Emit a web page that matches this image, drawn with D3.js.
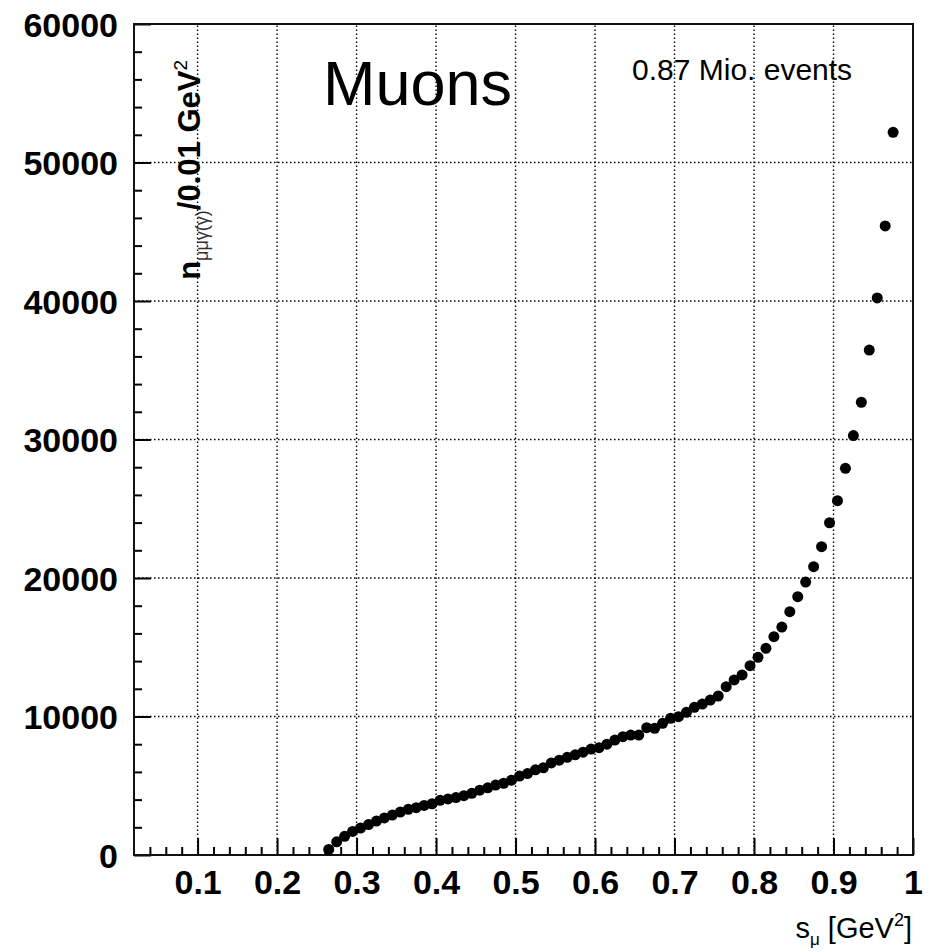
<!DOCTYPE html>
<html>
<head>
<meta charset="utf-8">
<script src="https://cdn.jsdelivr.net/npm/d3@7"></script>
<style>
  body { margin: 0; background: #fff; }
  svg text { font-family: "Liberation Sans", Arial, Helvetica, sans-serif; }
</style>
</head>
<body>
<div id="chart"></div>
<script>
// bin centres, s_mu in GeV^2 (0.01 GeV^2 bins)
const sMu = [
  0.265, 0.275, 0.285, 0.295, 0.305, 0.315, 0.325, 0.335, 0.345, 0.355,
  0.365, 0.375, 0.385, 0.395, 0.405, 0.415, 0.425, 0.435, 0.445, 0.455,
  0.465, 0.475, 0.485, 0.495, 0.505, 0.515, 0.525, 0.535, 0.545, 0.555,
  0.565, 0.575, 0.585, 0.595, 0.605, 0.615, 0.625, 0.635, 0.645, 0.655,
  0.665, 0.675, 0.685, 0.695, 0.705, 0.715, 0.725, 0.735, 0.745, 0.755,
  0.765, 0.775, 0.785, 0.795, 0.805, 0.815, 0.825, 0.835, 0.845, 0.855,
  0.865, 0.875, 0.885, 0.895, 0.905, 0.915, 0.925, 0.935, 0.945, 0.955,
  0.965, 0.975
];

// events per bin
const nEvents = [
  400, 950, 1350, 1700, 1950, 2200, 2450, 2680, 2880, 3100,
  3300, 3420, 3580, 3700, 3950, 4050, 4150, 4280, 4450, 4680,
  4850, 5050, 5180, 5400, 5700, 5880, 6150, 6300, 6650, 6850,
  7050, 7230, 7420, 7650, 7750, 8000, 8300, 8540, 8660, 8660,
  9190, 9150, 9510, 9870, 9990, 10300, 10660, 10900, 11190, 11480,
  12150, 12640, 13000, 13670, 14270, 14920, 15760, 16460, 17570, 18650,
  19710, 20820, 22260, 23990, 25580, 27920, 30280, 32690, 36460, 40220,
  45420, 52180
];

const xTicks = [0.1, 0.2, 0.3, 0.4, 0.5, 0.6, 0.7, 0.8, 0.9, 1];
const xTickLabels = ['0.1', '0.2', '0.3', '0.4', '0.5', '0.6', '0.7', '0.8', '0.9', '1'];
const yTicks = [0, 10000, 20000, 30000, 40000, 50000, 60000];
const xDomain = [0.02, 1.0];
const yDomain = [0, 60000];

const width = 930;
const height = 952;
const margin = { top: 24, right: 17, bottom: 97, left: 134 };

const svg = d3.select('#chart').append('svg')
  .attr('width', width)
  .attr('height', height);

const x = d3.scaleLinear()
  .domain(xDomain)
  .range([margin.left, width - margin.right]);

const y = d3.scaleLinear()
  .domain(yDomain)
  .range([height - margin.bottom, margin.top]);

const pts = sMu.map((s, i) => ({ s: s, n: nEvents[i] }));

// grid (dotted)
const grid = svg.append('g')
  .attr('stroke', '#000')
  .attr('stroke-width', 1.4)
  .attr('stroke-dasharray', '1.5,2.5');

grid.selectAll('line.gx')
  .data(xTicks.filter(t => t < 1))
  .enter().append('line')
  .attr('class', 'gx')
  .attr('x1', d => x(d)).attr('x2', d => x(d))
  .attr('y1', y(yDomain[0])).attr('y2', y(yDomain[1]));

grid.selectAll('line.gy')
  .data(yTicks.filter(t => t > 0 && t < 60000))
  .enter().append('line')
  .attr('class', 'gy')
  .attr('x1', x(xDomain[0])).attr('x2', x(xDomain[1]))
  .attr('y1', d => y(d)).attr('y2', d => y(d));

// minor ticks
const xMinor = d3.range(0.04, 0.999, 0.02).filter(v => Math.abs(v * 10 - Math.round(v * 10)) > 1e-6);
const yMinor = d3.range(2000, 60000, 2000).filter(v => v % 10000 !== 0);

svg.append('g')
  .attr('transform', `translate(0,${y(0)})`)
  .call(d3.axisBottom(x).tickValues(xMinor).tickSize(-8).tickSizeOuter(0).tickFormat(''))
  .call(g => g.select('.domain').remove())
  .selectAll('line').attr('stroke', '#000').attr('stroke-width', 2);

svg.append('g')
  .attr('transform', `translate(${x(xDomain[0])},0)`)
  .call(d3.axisLeft(y).tickValues(yMinor).tickSize(-8).tickSizeOuter(0).tickFormat(''))
  .call(g => g.select('.domain').remove())
  .selectAll('line').attr('stroke', '#000').attr('stroke-width', 2);

// major ticks + labels
const xAxis = svg.append('g')
  .attr('transform', `translate(0,${y(0)})`)
  .call(d3.axisBottom(x).tickValues(xTicks).tickSize(-17).tickSizeOuter(0)
    .tickPadding(15).tickFormat((d, i) => xTickLabels[i]));
xAxis.select('.domain').remove();
xAxis.selectAll('line').attr('stroke', '#000').attr('stroke-width', 2);
xAxis.selectAll('text')
  .attr('font-family', '"Liberation Sans", Arial, sans-serif')
  .attr('font-size', 34)
  .attr('font-weight', 'bold')
  .attr('fill', '#000');

const yAxis = svg.append('g')
  .attr('transform', `translate(${x(xDomain[0])},0)`)
  .call(d3.axisLeft(y).tickValues(yTicks).tickSize(-17).tickSizeOuter(0)
    .tickPadding(16).tickFormat(d3.format('d')));
yAxis.select('.domain').remove();
yAxis.selectAll('line').attr('stroke', '#000').attr('stroke-width', 2);
yAxis.selectAll('text')
  .attr('font-family', '"Liberation Sans", Arial, sans-serif')
  .attr('font-size', 34)
  .attr('font-weight', 'bold')
  .attr('fill', '#000')
  .attr('dy', '0.36em');

// frame
svg.append('rect')
  .attr('x', x(xDomain[0]))
  .attr('y', y(yDomain[1]))
  .attr('width', x(xDomain[1]) - x(xDomain[0]))
  .attr('height', y(yDomain[0]) - y(yDomain[1]))
  .attr('fill', 'none')
  .attr('stroke', '#111')
  .attr('stroke-width', 2);

// data points
svg.append('g')
  .selectAll('circle')
  .data(pts)
  .enter().append('circle')
  .attr('cx', d => x(d.s))
  .attr('cy', d => y(d.n))
  .attr('r', 5.5)
  .attr('fill', '#000');

// texts
svg.append('text')
  .attr('x', 323)
  .attr('y', 105)
  .attr('font-size', 63)
  .attr('fill', '#000')
  .text('Muons');

svg.append('text')
  .attr('x', 632)
  .attr('y', 80)
  .attr('font-size', 30)
  .attr('fill', '#000')
  .text('0.87 Mio. events');

// x axis title
const xt = svg.append('text')
  .attr('x', 912)
  .attr('y', 938)
  .attr('text-anchor', 'end')
  .attr('font-size', 29)
  .attr('fill', '#000');
xt.append('tspan').text('s');
xt.append('tspan').attr('font-size', 17).attr('dy', 7).text('μ');
xt.append('tspan').attr('dy', -7).text(' [GeV');
xt.append('tspan').attr('font-size', 18).attr('dy', -12).text('2');
xt.append('tspan').attr('dy', 12).text(']');

// y axis title
const yt = svg.append('text')
  .attr('transform', 'translate(200,60) rotate(-90)')
  .attr('text-anchor', 'end')
  .attr('font-size', 31)
  .attr('font-weight', 'bold')
  .attr('fill', '#000');
yt.append('tspan').text('n');
yt.append('tspan').attr('font-size', 18).attr('font-weight', 'normal').attr('fill', '#333').attr('dy', 8).text('μμγ(γ)');
yt.append('tspan').attr('dy', -8).text('/0.01 GeV');
yt.append('tspan').attr('font-size', 19).attr('font-weight', 'normal').attr('dy', -13).text('2');
</script>
</body>
</html>
